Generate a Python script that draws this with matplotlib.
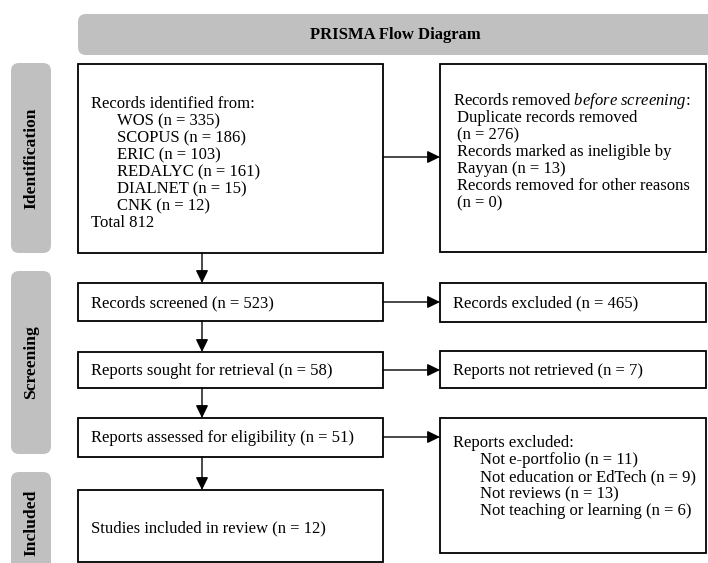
import matplotlib
matplotlib.use("Agg")
import matplotlib.pyplot as plt
from matplotlib.patches import FancyBboxPatch, Rectangle

plt.rcParams['font.family'] = ['Liberation Serif', 'DejaVu Serif']
plt.rcParams['mathtext.fontset'] = 'custom'
plt.rcParams['mathtext.rm'] = 'Liberation Serif'
plt.rcParams['mathtext.it'] = 'Liberation Serif:italic'

# ---- data ----
title = "PRISMA Flow Diagram"
phases = ["Identification", "Screening", "Included"]
sources = ["WOS", "SCOPUS", "ERIC", "REDALYC", "DIALNET", "CNK"]
source_counts = [335, 186, 103, 161, 15, 12]
total_identified = 812
duplicates_removed = 276
ineligible_rayyan = 13
removed_other = 0
records_screened = 523
records_excluded = 465
reports_sought = 58
reports_not_retrieved = 7
reports_assessed = 51
exclusion_reasons = ["Not e-portfolio", "Not education or EdTech",
                     "Not reviews", "Not teaching or learning"]
exclusion_counts = [11, 9, 13, 6]
studies_included = 12

W, H = 708, 563
fig = plt.figure(figsize=(W / 100, H / 100), dpi=100)
ax = fig.add_axes([0, 0, 1, 1])
ax.set_xlim(0, W)
ax.set_ylim(H, 0)
ax.axis('off')

GRAY = '#c0c0c0'
FS = 12


def rounded(x0, y0, x1, y1):
    ax.add_patch(FancyBboxPatch((x0, y0), x1 - x0, y1 - y0,
                                boxstyle="round,pad=0,rounding_size=8",
                                fc=GRAY, ec='none', clip_on=False))


def box(x0, y0, x1, y1):
    ax.add_patch(Rectangle((x0, y0), x1 - x0, y1 - y0, fc='white',
                           ec='black', lw=1.3, clip_on=False))


def line(x, yc, s, **kw):
    ax.text(x, yc + 5, s, fontsize=FS, ha='left', va='baseline', **kw)


def arrow(x0, y0, x1, y1):
    ax.annotate('', xy=(x1, y1), xytext=(x0, y0),
                arrowprops=dict(arrowstyle='-|>,head_length=0.45,head_width=0.22',
                                color='black', lw=1.0, mutation_scale=17,
                                shrinkA=0, shrinkB=0))


# header
rounded(78, 14, 740, 55)
ax.text(395, 35, title, fontsize=FS, fontweight='bold', ha='center', va='center')

# phase bars
bars = [(63, 253), (271, 454), (472, 620)]
label_y = [158, 362, 523]
for (y0, y1), name, ly in zip(bars, phases, label_y):
    rounded(11, y0, 51, y1)
    ax.text(31, ly, name, fontsize=12.6, fontweight='bold', rotation=90,
            ha='center', va='center')

# boxes
box(78, 64, 383, 253)
box(440, 64, 706, 252)
box(78, 283, 383, 321)
box(440, 283, 706, 322)
box(78, 352, 383, 388)
box(440, 351, 706, 388)
box(78, 418, 383, 457)
box(440, 418, 706, 553)
box(78, 490, 383, 562)

# identification text
y = 103
line(91, y, "Records identified from:")
for s, n in zip(sources, source_counts):
    y += 17
    line(117, y, f"{s} (n = {n})")
y += 17
line(91, y, f"Total {total_identified}")

# removed before screening
ry = [100, 117, 134, 151, 168, 185, 202]
line(453, ry[0], r"Records removed $\mathit{before\ screening}$:")
line(457, ry[1], "Duplicate records removed")
line(457, ry[2], f"(n = {duplicates_removed})")
line(457, ry[3], "Records marked as ineligible by")
line(457, ry[4], f"Rayyan (n = {ineligible_rayyan})")
line(457, ry[5], "Records removed for other reasons")
line(457, ry[6], f"(n = {removed_other})")

# screening
line(91, 302, f"Records screened (n = {records_screened})")
line(453, 302, f"Records excluded (n = {records_excluded})")
line(91, 370, f"Reports sought for retrieval (n = {reports_sought})")
line(453, 370, f"Reports not retrieved (n = {reports_not_retrieved})")
line(91, 437, f"Reports assessed for eligibility (n = {reports_assessed})")

y = 442
line(453, y, "Reports excluded:")
for s, n in zip(exclusion_reasons, exclusion_counts):
    y += 17
    line(480, y, f"{s} (n = {n})")

line(91, 527, f"Studies included in review (n = {studies_included})")

# arrows
AX = 202
arrow(AX, 253, AX, 283)
arrow(AX, 321, AX, 352)
arrow(AX, 388, AX, 418)
arrow(AX, 457, AX, 490)
arrow(383, 157, 440, 157)
arrow(383, 302, 440, 302)
arrow(383, 370, 440, 370)
arrow(383, 437, 440, 437)

fig.savefig("out.png", dpi=100)
